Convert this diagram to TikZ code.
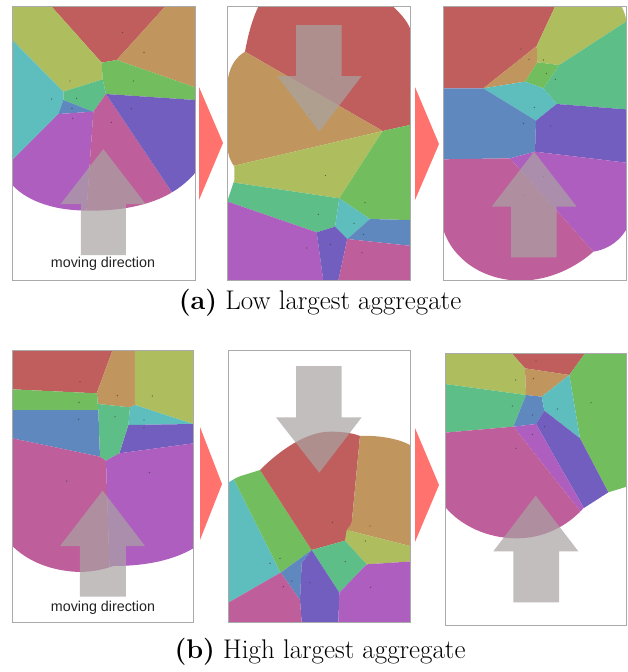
\documentclass[tikz,border=0pt]{standalone}
\usepackage{fontspec}
\usepackage{xcolor}
\usepackage{tikz}
\usetikzlibrary{positioning}
\newfontfamily\labelsans{Liberation Sans}
\definecolor{vcred}{RGB}{192,94,94}
\definecolor{vctan}{RGB}{192,150,94}
\definecolor{vcolive}{RGB}{174,190,94}
\definecolor{vcgreen}{RGB}{114,190,94}
\definecolor{vcteal}{RGB}{94,190,136}
\definecolor{vccyan}{RGB}{94,190,190}
\definecolor{vcblue}{RGB}{94,136,190}
\definecolor{vcindigo}{RGB}{114,94,190}
\definecolor{vcpurple}{RGB}{174,94,190}
\definecolor{vcpink}{RGB}{190,94,154}
\definecolor{vdarrow}{RGB}{169,163,163}
\definecolor{vdnext}{RGB}{255,114,110}
\definecolor{vdframe}{RGB}{170,170,170}
\definecolor{vdink}{RGB}{35,35,35}
\tikzset{
  panelframe/.style={draw=vdframe,line width=0.9pt},
  movearrow/.style={fill=vdarrow,fill opacity=0.7},
  nextarrow/.style={fill=vdnext},
  seeddot/.style={fill=black!75,fill opacity=0.8},
  movelabel/.style={font=\labelsans\fontsize{14.3}{16}\selectfont,text=vdink,inner sep=0pt},
  captext/.style={font=\fontsize{27}{31}\selectfont,text=black,inner sep=0pt}
}

\begin{document}
\begin{tikzpicture}[x=1pt,y=-1pt]
  \useasboundingbox[fill=white] (0,0) rectangle (627,672);

  % --- (a) first panel
  \begin{scope}[shift={(0,0)},scale=1/3]
    \begin{scope}
      \clip (37,20) -- (585,20) -- (585,520) .. controls (530,580) and (470,605) .. (400,620) .. controls (330,635) and (220,638) .. (150,618) .. controls (95,603) and (60,580) .. (37,555) -- cycle;
      \fill[vcred] (155,20) -- (495,20) -- (350,180) -- (305,188) -- cycle;
      \fill[vcolive] (37,20) -- (155,20) -- (305,188) -- (308,238) -- (190,275) -- (37,120) -- cycle;
      \fill[vctan] (495,20) -- (585,20) -- (585,262) -- (350,180) -- cycle;
      \fill[vcgreen] (305,188) -- (350,180) -- (585,262) -- (585,300) -- (318,282) -- (308,238) -- cycle;
      \fill[vccyan] (37,120) -- (190,275) -- (190,300) -- (175,342) -- (37,480) -- cycle;
      \fill[vcteal] (190,275) -- (308,238) -- (318,282) -- (280,335) -- (190,300) -- cycle;
      \fill[vcblue] (190,300) -- (280,335) -- (175,342) -- cycle;
      \fill[vcpurple] (37,480) -- (175,342) -- (280,335) -- (255,700) -- (37,700) -- cycle;
      \fill[vcpink] (280,335) -- (318,282) -- (515,575) -- (520,700) -- (255,700) -- cycle;
      \fill[vcindigo] (318,282) -- (585,300) -- (585,700) -- (515,575) -- cycle;
      \foreach \p in {(368,97),(432,157),(210,243),(400,243),(155,297),(230,295),(216,325),(218,355),(334,367),(394,326)}
        \fill[seeddot] \p circle (2);
    \end{scope}
    \fill[movearrow] (243,765) -- (243,612) -- (182,612) -- (310,447) -- (437,612) -- (378,612) -- (378,765) -- cycle;
    \draw[panelframe] (37,20) rectangle (585,840);
  \end{scope}
  \node[movelabel] (movea) at (103,264) {moving direction};

  % --- (a) second panel
  \begin{scope}[shift={(200,0)},scale=1/3]
    \begin{scope}
      \clip (175,20) -- (580,20) .. controls (600,40) and (620,60) .. (630,85) -- (630,842) -- (83,842) -- (83,600) -- (103,540) -- (103,500) .. controls (90,480) and (83,465) .. (83,440) -- (83,240) .. controls (90,195) and (110,170) .. (135,155) .. controls (145,100) and (158,55) .. (175,20) -- cycle;
      \fill[vcred] (83,0) -- (700,0) -- (700,375) -- (630,375) -- (548,393) -- (135,155) -- (83,130) -- cycle;
      \fill[vctan] (83,130) -- (135,155) -- (548,393) -- (103,497) -- (83,497) -- cycle;
      \fill[vcolive] (83,497) -- (103,497) -- (548,393) -- (418,595) -- (83,545) -- cycle;
      \fill[vcgreen] (548,393) -- (630,375) -- (700,375) -- (700,662) -- (510,657) -- (418,595) -- cycle;
      \fill[vcteal] (83,545) -- (418,595) -- (405,680) -- (350,697) -- (83,605) -- cycle;
      \fill[vccyan] (418,595) -- (510,657) -- (442,717) -- (405,680) -- cycle;
      \fill[vcblue] (510,657) -- (700,662) -- (700,745) -- (442,717) -- cycle;
      \fill[vcpurple] (83,605) -- (350,697) -- (370,842) -- (83,842) -- cycle;
      \fill[vcindigo] (350,697) -- (405,680) -- (442,717) -- (415,842) -- (370,842) -- cycle;
      \fill[vcpink] (442,717) -- (700,745) -- (700,842) -- (415,842) -- cycle;
      \foreach \p in {(393,237),(330,343),(376,527),(495,608),(355,643),(462,670),(490,703),(320,744),(391,733),(486,758)}
        \fill[seeddot] \p circle (2);
    \end{scope}
    \fill[movearrow] (288,75) -- (288,228) -- (232,228) -- (358,395) -- (485,228) -- (425,228) -- (425,75) -- cycle;
    \draw[panelframe] (83,20) rectangle (630,842);
  \end{scope}

  % --- (a) third panel
  \begin{scope}[shift={(410,0)},scale=1/3]
    \begin{scope}
      \clip (100,20) -- (635,20) .. controls (642,35) and (648,48) .. (648,60) -- (648,690) .. controls (620,735) and (580,750) .. (550,755) .. controls (500,800) and (420,842) .. (330,842) .. controls (220,840) and (130,780) .. (100,690) -- cycle;
      \fill[vcred] (100,20) -- (435,20) -- (380,138) -- (220,265) -- (100,265) -- cycle;
      \fill[vcolive] (435,20) -- (648,20) -- (648,65) -- (448,195) -- (382,187) -- (380,138) -- cycle;
      \fill[vctan] (380,138) -- (382,187) -- (345,245) -- (220,265) -- cycle;
      \fill[vcgreen] (382,187) -- (448,195) -- (400,265) -- (345,245) -- cycle;
      \fill[vcteal] (448,195) -- (648,65) -- (648,328) -- (440,312) -- (400,265) -- cycle;
      \fill[vccyan] (220,265) -- (345,245) -- (400,265) -- (440,312) -- (378,362) -- cycle;
      \fill[vcblue] (100,265) -- (220,265) -- (378,362) -- (375,455) -- (300,475) -- (100,478) -- cycle;
      \fill[vcindigo] (378,362) -- (440,312) -- (648,328) -- (648,488) -- (375,455) -- cycle;
      \fill[vcpurple] (300,475) -- (375,455) -- (648,488) -- (648,900) -- (560,900) -- (550,755) -- cycle;
      \fill[vcpink] (100,478) -- (300,475) -- (550,755) -- (560,900) -- (100,900) -- cycle;
      \foreach \p in {(333,147),(400,180),(357,178),(409,220),(436,238),(373,322),(340,370),(422,378),(400,530),(340,586)}
        \fill[seeddot] \p circle (2);
    \end{scope}
    \fill[movearrow] (303,772) -- (303,620) -- (245,620) -- (372,455) -- (500,620) -- (440,620) -- (440,772) -- cycle;
    \draw[panelframe] (100,20) rectangle (648,840);
  \end{scope}

  % --- (b) first panel
  \begin{scope}[shift={(0,330)},scale=1/3]
    \begin{scope}
      \clip (37,60) -- (580,60) -- (580,655) .. controls (520,690) and (440,708) .. (340,708) .. controls (300,722) and (260,728) .. (220,725) .. controls (140,718) and (80,690) .. (37,648) -- cycle;
      \fill[vcred] (37,60) -- (338,60) -- (290,190) -- (37,178) -- cycle;
      \fill[vctan] (338,60) -- (405,60) -- (405,225) -- (390,232) -- (295,222) -- (290,190) -- cycle;
      \fill[vcolive] (405,60) -- (580,60) -- (580,282) -- (405,225) -- cycle;
      \fill[vccyan] (390,232) -- (405,225) -- (580,282) -- (385,285) -- cycle;
      \fill[vcindigo] (385,285) -- (580,282) -- (580,340) -- (358,370) -- cycle;
      \fill[vcgreen] (37,178) -- (290,190) -- (295,240) -- (37,240) -- cycle;
      \fill[vcblue] (37,240) -- (295,240) -- (300,380) -- (37,325) -- cycle;
      \fill[vcteal] (290,190) -- (295,222) -- (390,232) -- (385,285) -- (358,370) -- (318,392) -- (300,380) -- (295,240) -- cycle;
      \fill[vcpink] (37,325) -- (300,380) -- (318,392) -- (330,760) -- (37,760) -- cycle;
      \fill[vcpurple] (318,392) -- (358,370) -- (580,340) -- (580,760) -- (330,760) -- cycle;
      \foreach \p in {(240,155),(352,197),(457,198),(432,270),(432,293),(237,217),(236,268),(345,260),(200,453),(448,428)}
        \fill[seeddot] \p circle (2);
    \end{scope}
    \fill[movearrow] (240,800) -- (240,648) -- (180,648) -- (308,482) -- (435,648) -- (378,648) -- (378,800) -- cycle;
    \draw[panelframe] (37,60) rectangle (580,878);
  \end{scope}
  \node[movelabel] (moveb) at (103,608) {moving direction};

  % --- (b) second panel
  \begin{scope}[shift={(200,330)},scale=1/3]
    \begin{scope}
      \clip (85,878) -- (85,458) .. controls (110,440) and (150,425) .. (180,420) .. controls (240,360) and (320,305) .. (390,305) .. controls (440,305) and (465,312) .. (480,318) .. controls (540,315) and (600,328) .. (630,345) -- (630,878) -- cycle;
      \fill[vccyan] (85,400) -- (100,445) -- (242,728) -- (85,818) -- cycle;
      \fill[vcgreen] (100,445) -- (180,420) -- (335,660) -- (242,728) -- cycle;
      \fill[vcred] (180,420) -- (180,280) -- (480,280) -- (480,318) -- (455,580) -- (435,632) -- (335,660) -- cycle;
      \fill[vctan] (480,318) -- (480,280) -- (700,280) -- (700,655) -- (630,648) -- (440,600) -- (455,580) -- cycle;
      \fill[vcolive] (435,632) -- (440,600) -- (630,648) -- (700,648) -- (700,690) -- (500,703) -- cycle;
      \fill[vcteal] (335,660) -- (435,632) -- (500,703) -- (418,788) -- cycle;
      \fill[vcblue] (242,728) -- (335,660) -- (305,700) -- (300,810) -- cycle;
      \fill[vcindigo] (305,700) -- (335,660) -- (418,788) -- (415,878) -- (305,878) -- (300,810) -- cycle;
      \fill[vcpink] (85,818) -- (242,728) -- (300,810) -- (305,878) -- (85,878) -- cycle;
      \fill[vcpurple] (418,788) -- (500,703) -- (700,690) -- (700,878) -- (415,878) -- cycle;
      \foreach \p in {(210,700),(240,685),(397,577),(510,588),(496,633),(436,695),(275,753),(330,758),(250,770),(512,772)}
        \fill[seeddot] \p circle (2);
    \end{scope}
    \fill[movearrow] (288,108) -- (288,262) -- (228,262) -- (358,428) -- (485,262) -- (425,262) -- (425,108) -- cycle;
    \draw[panelframe] (85,62) rectangle (630,878);
  \end{scope}

  % --- (b) third panel
  \begin{scope}[shift={(410,330)},scale=1/3]
    \begin{scope}
      \clip (105,70) -- (650,70) -- (650,470) -- (595,487) -- (520,535) .. controls (470,590) and (400,625) .. (320,625) .. controls (230,625) and (150,585) .. (105,530) -- cycle;
      \fill[vcred] (305,70) -- (525,70) -- (478,135) -- (345,115) -- cycle;
      \fill[vcolive] (105,70) -- (305,70) -- (345,115) -- (348,195) -- (105,162) -- cycle;
      \fill[vctan] (345,115) -- (478,135) -- (395,200) -- (348,195) -- cycle;
      \fill[vcgreen] (525,70) -- (650,70) -- (650,470) -- (595,487) -- (510,325) -- (478,135) -- cycle;
      \fill[vcteal] (105,162) -- (348,195) -- (330,240) -- (310,290) -- (105,308) -- cycle;
      \fill[vcblue] (348,195) -- (395,200) -- (403,242) -- (378,282) -- (310,290) -- (330,240) -- cycle;
      \fill[vccyan] (395,200) -- (478,135) -- (510,325) -- (403,242) -- cycle;
      \fill[vcindigo] (378,282) -- (403,242) -- (510,325) -- (595,487) -- (522,535) -- cycle;
      \fill[vcpurple] (310,290) -- (378,282) -- (522,535) -- (512,545) -- cycle;
      \fill[vcpink] (105,308) -- (310,290) -- (512,545) -- (515,700) -- (105,700) -- cycle;
      \foreach \p in {(378,93),(317,150),(370,146),(543,218),(307,228),(367,255),(442,237),(404,290),(367,313),(318,355)}
        \fill[seeddot] \p circle (2);
    \end{scope}
    \fill[movearrow] (310,817) -- (310,664) -- (250,664) -- (377,497) -- (505,664) -- (447,664) -- (447,817) -- cycle;
    \draw[panelframe] (105,70) rectangle (650,887);
  \end{scope}

  % arrows between the steps
  \fill[nextarrow] (199,87) -- (223,143) -- (199,200) -- cycle;
  \fill[nextarrow] (415,87) -- (439,144) -- (415,200) -- cycle;
  \fill[nextarrow] (200,427) -- (222,484) -- (200,540) -- cycle;
  \fill[nextarrow] (415,428) -- (439,485) -- (415,542) -- cycle;

  % captions
  \node[captext] (capa) at (320,303) {\textbf{(a)} Low largest aggregate};
  \node[captext] (capb) at (320,652) {\textbf{(b)} High largest aggregate};
\end{tikzpicture}
\end{document}
